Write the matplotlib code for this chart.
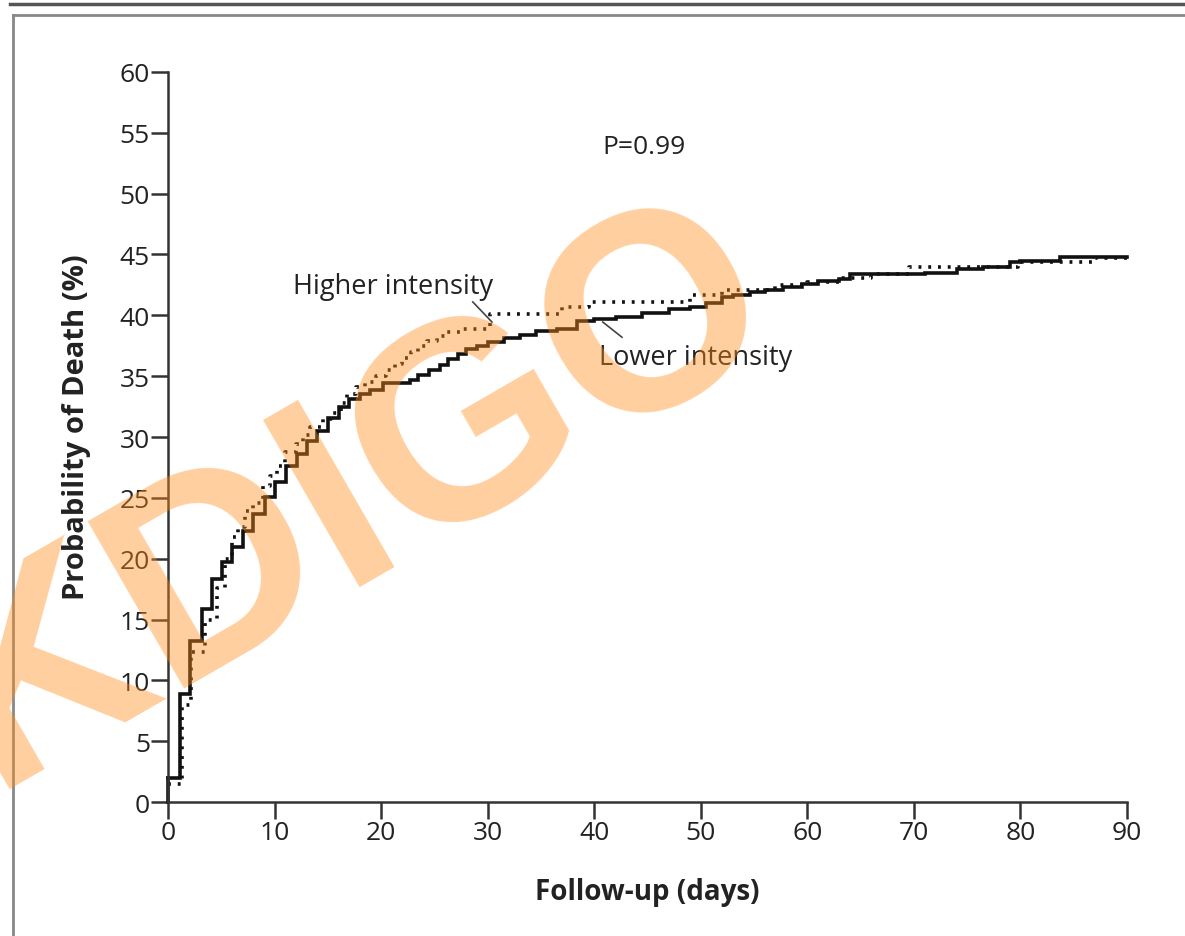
import numpy as np
import matplotlib
matplotlib.use("Agg")
import matplotlib.pyplot as plt
from matplotlib.lines import Line2D

# lower intensity (solid) - step curve, days / cumulative % death
lower_days = [0, 1.1, 2.05, 3.2, 4.1, 5.1, 6.0, 7.0, 8.0, 9.1, 10.0, 11.1, 12.1, 13.0, 14.0,
              15.0, 16.0, 17.0, 18.0, 19.0, 20.2, 22.7, 23.5, 24.5, 25.5, 26.3, 27.2, 28.0,
              29.0, 30.0, 31.5, 33.0, 34.5, 36.5, 38.4, 40.0, 42.0, 44.5, 47.0, 49.0, 50.5,
              52.0, 53.0, 54.6, 56.0, 57.7, 59.5, 61.0, 63.0, 64.0, 71.0, 74.0, 76.5, 79.0,
              80.0, 83.7, 90.0]
lower_pct = [2.0, 8.9, 13.2, 15.9, 18.3, 19.7, 21.0, 22.3, 23.7, 25.1, 26.3, 27.6, 28.6, 29.7,
             30.5, 31.6, 32.5, 33.1, 33.5, 33.9, 34.4, 34.7, 35.1, 35.5, 35.9, 36.4, 36.8, 37.2,
             37.5, 37.8, 38.1, 38.4, 38.7, 38.9, 39.5, 39.7, 39.9, 40.2, 40.5, 40.7, 41.0, 41.5,
             41.7, 41.9, 42.1, 42.3, 42.6, 42.8, 43.0, 43.4, 43.5, 43.8, 44.0, 44.4, 44.5, 44.8,
             44.8]

# higher intensity (dotted)
higher_days = [0, 1.3, 2.2, 3.5, 4.6, 5.3, 6.0, 6.6, 7.2, 8.0, 8.9, 9.6, 10.2, 11.0, 12.0,
               12.7, 13.3, 14.5, 15.3, 16.2, 16.8, 17.6, 18.5, 19.5, 20.5, 21.3, 22.0, 22.8,
               23.5, 24.3, 25.2, 26.2, 27.5, 30.2, 37.0, 39.5, 49.0, 52.0, 57.0, 60.0, 63.0,
               66.0, 69.5, 79.8, 87.0, 90.0]
higher_pct = [1.5, 8.0, 12.3, 15.0, 17.6, 20.0, 21.8, 22.6, 23.9, 24.6, 26.0, 26.8, 27.6, 28.8,
              29.4, 30.2, 30.8, 31.5, 32.0, 32.8, 33.5, 34.1, 34.5, 35.0, 35.5, 36.0, 36.5, 37.0,
              37.5, 37.9, 38.3, 38.6, 38.9, 40.1, 40.7, 41.1, 41.7, 42.1, 42.5, 42.7, 43.1, 43.4,
              44.0, 44.4, 44.7, 44.7]

x_ticks = list(range(0, 91, 10))
y_ticks = list(range(0, 61, 5))

plt.rcParams['font.family'] = ['Open Sans', 'DejaVu Sans']
text_col = '#222222'

fig = plt.figure(figsize=(11.85, 9.37), dpi=100)
ax = fig.add_axes([0.1418, 0.1430, 0.8093, 0.7791])

ax.plot([0, 0], [0, lower_pct[0]], color='#111111', lw=2.6, clip_on=False)
ax.plot(lower_days, lower_pct, drawstyle='steps-post', color='#111111', lw=2.6,
        clip_on=False, solid_joinstyle='miter')
ax.plot(higher_days, higher_pct, drawstyle='steps-post', color='#111111', lw=2.6,
        linestyle=(0, (0.8, 1.9)), dash_capstyle='butt', clip_on=False)

ax.set_xlim(0, 90)
ax.set_ylim(0, 60)
ax.set_xticks(x_ticks)
ax.set_yticks(y_ticks)
for s in ['top', 'right']:
    ax.spines[s].set_visible(False)
for s in ['left', 'bottom']:
    ax.spines[s].set_linewidth(1.8)
    ax.spines[s].set_color('#333333')
ax.tick_params(length=12, width=1.8, color='#333333', labelsize=19, labelcolor=text_col, pad=1)

ax.set_xlabel('Follow-up (days)', fontsize=20, fontweight='bold', color=text_col, labelpad=23)
ax.set_ylabel('Probability of Death (%)', fontsize=21, fontweight='bold', color=text_col, labelpad=21)
ax.yaxis.label.set_y(0.515)

ax.text(40.8, 53.9, 'P=0.99', fontsize=19, color=text_col, va='center', ha='left')
ax.text(11.7, 42.4, 'Higher intensity', fontsize=19.5, color=text_col, va='center', ha='left')
ax.text(40.4, 36.6, 'Lower intensity', fontsize=19.5, color=text_col, va='center', ha='left')
ax.plot([28.6, 30.4], [41.1, 39.45], color='#444444', lw=1.2)
ax.plot([40.8, 42.6], [39.45, 38.2], color='#444444', lw=1.2)

# frame lines around the figure panel
fig.add_artist(Line2D([10 / 1185, 1], [1 - 5 / 937, 1 - 5 / 937], color='#555555', lw=2.5))
fig.add_artist(Line2D([13 / 1185, 1], [1 - 16 / 937, 1 - 16 / 937], color='#888888', lw=2))
fig.add_artist(Line2D([13 / 1185, 13 / 1185], [0, 1 - 16 / 937], color='#888888', lw=2))

# watermark
fig.text(0.328, 0.403, 'KDIGO', fontsize=202, fontweight='bold', family='Liberation Sans',
         color='#FF8C1A', alpha=0.42, rotation=30, rotation_mode='anchor',
         ha='center', va='baseline', zorder=10)

fig.savefig('out.png', dpi=100)
